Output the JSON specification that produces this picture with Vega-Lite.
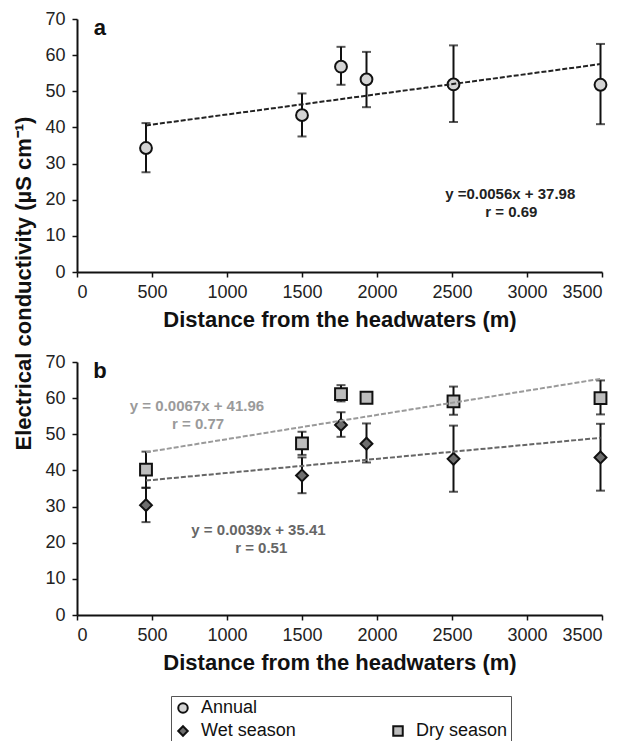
{
  "$schema": "https://vega.github.io/schema/vega-lite/v6.json",
  "padding": {"left": 12, "top": 10, "right": 0, "bottom": 0},
  "background": "white",
  "config": {
    "font": "Liberation Sans",
    "view": {"stroke": null},
    "axis": {"grid": false, "domainColor": "#111", "domainWidth": 2, "tickColor": "#111", "tickWidth": 1.5, "tickSize": 5,
      "labelFont": "Liberation Sans", "labelFontSize": 18, "labelColor": "#222", "format": "d",
      "titleFont": "Liberation Sans", "titleFontSize": 22, "titleFontWeight": "bold", "titleColor": "#111"},
    "legend": {"orient": "none", "legendX": 94, "legendY": 677, "columns": 2, "columnPadding": 93, "rowPadding": 5,
      "title": null, "labelFont": "Liberation Sans", "labelFontSize": 18, "labelColor": "#111", "symbolSize": 90,
      "symbolStrokeWidth": 2, "labelOffset": 9, "padding": 3, "strokeColor": "#555", "fillColor": "white"}
  },
  "datasets": {
    "pts": [
      {"panel": "a", "series": "Annual", "x": 460, "y": 34.3, "lo": 27.6, "hi": 41.2},
      {"panel": "a", "series": "Annual", "x": 1500, "y": 43.4, "lo": 37.5, "hi": 49.4},
      {"panel": "a", "series": "Annual", "x": 1760, "y": 56.8, "lo": 51.8, "hi": 62.3},
      {"panel": "a", "series": "Annual", "x": 1930, "y": 53.3, "lo": 45.6, "hi": 60.9},
      {"panel": "a", "series": "Annual", "x": 2510, "y": 51.9, "lo": 41.5, "hi": 62.7},
      {"panel": "a", "series": "Annual", "x": 3490, "y": 51.8, "lo": 40.9, "hi": 63.1},
      {"panel": "b", "series": "Dry season", "x": 460, "y": 40.2, "lo": 35.2, "hi": 45.2},
      {"panel": "b", "series": "Dry season", "x": 1500, "y": 47.5, "lo": 44.3, "hi": 50.7},
      {"panel": "b", "series": "Dry season", "x": 1760, "y": 61.1, "lo": 59.1, "hi": 63.6},
      {"panel": "b", "series": "Dry season", "x": 1930, "y": 60.1, "lo": 59.0, "hi": 61.2},
      {"panel": "b", "series": "Dry season", "x": 2510, "y": 59.1, "lo": 55.4, "hi": 63.2},
      {"panel": "b", "series": "Dry season", "x": 3490, "y": 60.0, "lo": 55.5, "hi": 64.9},
      {"panel": "b", "series": "Wet season", "x": 460, "y": 30.4, "lo": 25.7, "hi": 35.2},
      {"panel": "b", "series": "Wet season", "x": 1500, "y": 38.6, "lo": 33.7, "hi": 43.6},
      {"panel": "b", "series": "Wet season", "x": 1760, "y": 52.6, "lo": 49.3, "hi": 56.1},
      {"panel": "b", "series": "Wet season", "x": 1930, "y": 47.4, "lo": 42.2, "hi": 53.0},
      {"panel": "b", "series": "Wet season", "x": 2510, "y": 43.2, "lo": 34.1, "hi": 52.4},
      {"panel": "b", "series": "Wet season", "x": 3490, "y": 43.6, "lo": 34.4, "hi": 52.9}
    ],
    "fits": [
      {"panel": "a", "series": "Annual", "x": 460, "y": 40.56},
      {"panel": "a", "series": "Annual", "x": 3490, "y": 57.52},
      {"panel": "b", "series": "Dry season", "x": 460, "y": 45.04},
      {"panel": "b", "series": "Dry season", "x": 3490, "y": 65.34},
      {"panel": "b", "series": "Wet season", "x": 460, "y": 37.20},
      {"panel": "b", "series": "Wet season", "x": 3490, "y": 49.02}
    ],
    "notes": [
      {"panel": "a", "series": "Annual", "x": 2888, "y": 21.6, "text": "y =0.0056x + 37.98"},
      {"panel": "a", "series": "Annual", "x": 2896, "y": 16.6, "text": "r = 0.69"},
      {"panel": "b", "series": "Dry season", "x": 800, "y": 57.8, "text": "y = 0.0067x + 41.96"},
      {"panel": "b", "series": "Dry season", "x": 807, "y": 52.8, "text": "r = 0.77"},
      {"panel": "b", "series": "Wet season", "x": 1210, "y": 23.5, "text": "y = 0.0039x + 35.41"},
      {"panel": "b", "series": "Wet season", "x": 1228, "y": 18.5, "text": "r = 0.51"}
    ],
    "tags": [
      {"panel": "a", "x": 153, "y": 67.5, "tag": "a"},
      {"panel": "b", "x": 153, "y": 67.5, "tag": "b"}
    ]
  },
  "spacing": 90,
  "bounds": "flush",
  "vconcat": [
    {
      "width": 525, "height": 253,
      "encoding": {
        "x": {"field": "x", "type": "quantitative", "scale": {"domain": [0, 3500], "nice": false},
          "axis": {"values": [0, 500, 1000, 1500, 2000, 2500, 3000, 3500], "title": "Distance from the headwaters (m)", "labelPadding": 6, "titlePadding": 8}},
        "y": {"field": "y", "type": "quantitative", "scale": {"domain": [0, 70], "nice": false},
          "axis": {"values": [0, 10, 20, 30, 40, 50, 60, 70], "title": "Electrical conductivity (µS cm⁻¹)", "labelPadding": 7, "titleX": -42, "titleY": 264}}
      },
      "layer": [
        {"data": {"name": "pts"}, "transform": [{"filter": "datum.panel === 'a'"}],
          "mark": {"type": "errorbar", "ticks": true, "size": 9, "thickness": 2, "color": "#111"},
          "encoding": {"y": {"field": "lo", "type": "quantitative"}, "y2": {"field": "hi"}}},
        {"data": {"name": "pts"}, "transform": [{"filter": "datum.panel === 'a'"}],
          "mark": {"type": "point", "filled": true, "size": 140, "strokeWidth": 2, "opacity": 1},
          "encoding": {
            "shape": {"field": "series", "type": "nominal", "scale": {"domain": ["Annual", "Wet season", " ", "Dry season"], "range": ["circle", "diamond", "circle", "square"]}},
            "fill": {"field": "series", "type": "nominal", "scale": {"domain": ["Annual", "Wet season", " ", "Dry season"], "range": ["#d4d4d4", "#6e6e6e", "transparent", "#bdbdbd"]}},
            "stroke": {"field": "series", "type": "nominal", "scale": {"domain": ["Annual", "Wet season", " ", "Dry season"], "range": ["#111", "#111", "transparent", "#111"]}}
          }},
        {"data": {"name": "fits"}, "transform": [{"filter": "datum.panel === 'a'"}],
          "mark": {"type": "line", "strokeDash": [5, 2], "strokeWidth": 2},
          "encoding": {"color": {"field": "series", "type": "nominal", "legend": null, "scale": {"domain": ["Annual", "Wet season", "Dry season"], "range": ["#222", "#666", "#9a9a9a"]}}}},
        {"data": {"name": "notes"}, "transform": [{"filter": "datum.panel === 'a'"}],
          "mark": {"type": "text", "fontSize": 15, "fontWeight": "bold", "align": "center", "baseline": "middle"},
          "encoding": {"text": {"field": "text"}, "color": {"field": "series", "type": "nominal", "legend": null}}},
        {"data": {"name": "tags"}, "transform": [{"filter": "datum.panel === 'a'"}],
          "mark": {"type": "text", "fontSize": 22, "fontWeight": "bold", "align": "center", "baseline": "middle", "color": "#111"},
          "encoding": {"text": {"field": "tag"}}}
      ]
    },
    {
      "width": 525, "height": 253,
      "encoding": {
        "x": {"field": "x", "type": "quantitative", "scale": {"domain": [0, 3500], "nice": false},
          "axis": {"values": [0, 500, 1000, 1500, 2000, 2500, 3000, 3500], "title": "Distance from the headwaters (m)", "labelPadding": 6, "titlePadding": 8}},
        "y": {"field": "y", "type": "quantitative", "scale": {"domain": [0, 70], "nice": false},
          "axis": {"values": [0, 10, 20, 30, 40, 50, 60, 70], "title": null, "labelPadding": 7}}
      },
      "layer": [
        {"data": {"name": "pts"}, "transform": [{"filter": "datum.panel === 'b'"}],
          "mark": {"type": "errorbar", "ticks": true, "size": 9, "thickness": 2, "color": "#111"},
          "encoding": {"y": {"field": "lo", "type": "quantitative"}, "y2": {"field": "hi"}, "detail": {"field": "series"}}},
        {"data": {"name": "pts"}, "transform": [{"filter": "datum.panel === 'b'"}],
          "mark": {"type": "point", "filled": true, "size": 140, "strokeWidth": 2, "opacity": 1},
          "encoding": {
            "shape": {"field": "series", "type": "nominal", "scale": {"domain": ["Annual", "Wet season", " ", "Dry season"], "range": ["circle", "diamond", "circle", "square"]}},
            "fill": {"field": "series", "type": "nominal", "scale": {"domain": ["Annual", "Wet season", " ", "Dry season"], "range": ["#d4d4d4", "#6e6e6e", "transparent", "#bdbdbd"]}},
            "stroke": {"field": "series", "type": "nominal", "scale": {"domain": ["Annual", "Wet season", " ", "Dry season"], "range": ["#111", "#111", "transparent", "#111"]}}
          }},
        {"data": {"name": "fits"}, "transform": [{"filter": "datum.panel === 'b'"}],
          "mark": {"type": "line", "strokeDash": [5, 2], "strokeWidth": 2},
          "encoding": {"color": {"field": "series", "type": "nominal", "legend": null}}},
        {"data": {"name": "notes"}, "transform": [{"filter": "datum.panel === 'b'"}],
          "mark": {"type": "text", "fontSize": 15, "fontWeight": "bold", "align": "center", "baseline": "middle"},
          "encoding": {"text": {"field": "text"}, "color": {"field": "series", "type": "nominal", "legend": null}}},
        {"data": {"name": "tags"}, "transform": [{"filter": "datum.panel === 'b'"}],
          "mark": {"type": "text", "fontSize": 22, "fontWeight": "bold", "align": "center", "baseline": "middle", "color": "#111"},
          "encoding": {"text": {"field": "tag"}}}
      ]
    }
  ]
}
